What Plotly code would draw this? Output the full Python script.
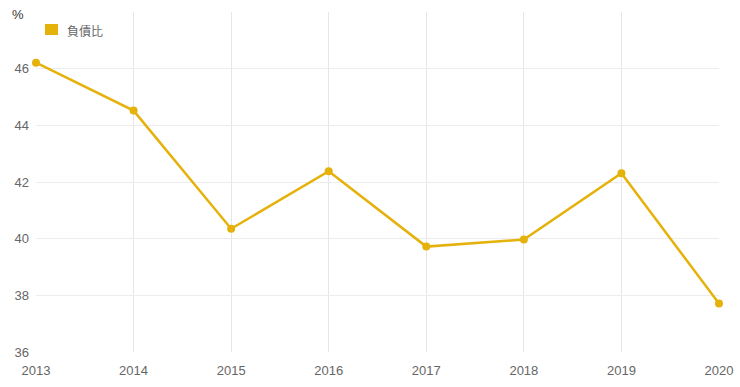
import plotly.graph_objects as go

years = [2013, 2014, 2015, 2016, 2017, 2018, 2019, 2020]
debt_ratio = [46.21, 44.52, 40.35, 42.38, 39.72, 39.97, 42.31, 37.71]
series_name = "負債比"
y_ticks = [36, 38, 40, 42, 44, 46, 48]
y_tick_labels = ["36", "38", "40", "42", "44", "46", ""]

color = "#E5B10B"
tick_font = dict(family="Liberation Sans, Arial", size=13, color="#666666")

fig = go.Figure()
fig.add_trace(go.Scatter(
    x=years, y=debt_ratio, mode="lines+markers",
    line=dict(color=color, width=2.5),
    marker=dict(color=color, size=8),
    showlegend=False, name=series_name, cliponaxis=False,
))

W, H = 740, 387
L, R, T, B = 36, 21, 12, 35
pw, ph = W - L - R, H - T - B

def px_x(p):
    return (p - L) / pw

def px_y(p):
    return (H - B - p) / ph

fig.update_layout(
    width=W, height=H,
    margin=dict(l=L, r=R, t=T, b=B, autoexpand=False),
    paper_bgcolor="white", plot_bgcolor="white",
    font=tick_font,
    showlegend=False,
    xaxis=dict(range=[2013, 2020], tickvals=years, ticktext=[str(y) for y in years],
               showgrid=True, gridcolor="#e6e6e6", gridwidth=1, zeroline=False,
               showline=False, ticks="", tickfont=tick_font, automargin=False,
               ticklabelstandoff=9),
    yaxis=dict(range=[36, 48], tickvals=y_ticks, ticktext=y_tick_labels,
               showgrid=True, gridcolor="#ececec", gridwidth=1, zeroline=False,
               showline=False, ticks="", ticklabelstandoff=6, tickfont=tick_font,
               automargin=False),
    shapes=[dict(type="rect", xref="paper", yref="paper",
                 x0=px_x(45), x1=px_x(58), y0=px_y(35), y1=px_y(24),
                 fillcolor=color, line=dict(width=0))],
    annotations=[
        dict(text="%", xref="paper", yref="paper", x=px_x(18), y=px_y(15),
             xanchor="center", yanchor="middle", showarrow=False,
             font=dict(family="Liberation Sans, Arial", size=13, color="#333333")),
        dict(text=series_name, xref="paper", yref="paper", x=px_x(65), y=px_y(30),
             xanchor="left", yanchor="middle", showarrow=False,
             font=dict(family="Noto Sans CJK TC, Liberation Sans", size=12, color="#666666")),
    ],
)

fig.write_html("out.html", post_script="document.body.style.margin='0';",
               config={"displayModeBar": False})
